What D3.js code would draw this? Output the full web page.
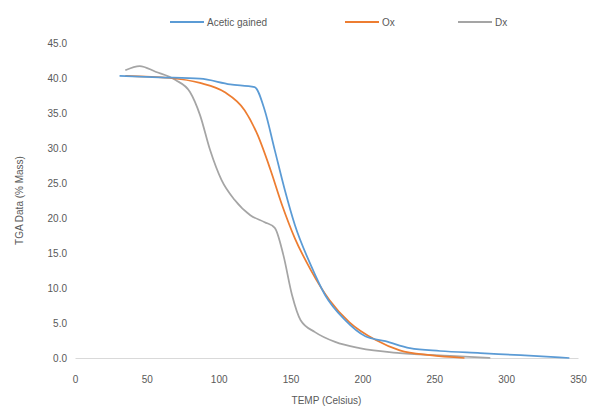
<!DOCTYPE html>
<html>
<head>
<meta charset="utf-8">
<script src="https://cdn.jsdelivr.net/npm/d3@7"></script>
<style>
  html, body { margin: 0; padding: 0; background: #fff; }
  svg { display: block; font-family: "Liberation Sans", Arial, sans-serif; }
</style>
</head>
<body>
<svg id="chart" width="592" height="410"></svg>
<script>
// Mass loss curves vs temperature
const seriesNames = ["Acetic gained", "Ox", "Dx"];
const seriesColors = ["#5B9BD5", "#ED7D31", "#A5A5A5"];

const tempA = [31, 59, 87, 108, 125, 132, 139, 146, 153, 164, 174, 188, 202, 216, 233, 254, 282, 310, 344];
const massA = [40.3, 40.1, 39.9, 39.1, 38.7, 35.4, 29.7, 24.0, 19.0, 13.3, 9.0, 5.4, 3.1, 2.4, 1.4, 1.0, 0.7, 0.4, 0.0];

const tempB = [35, 66, 87, 104, 118, 127, 136, 144, 153, 164, 177, 191, 209, 226, 247, 271];
const massB = [40.3, 40.0, 39.3, 38.0, 35.4, 31.9, 26.9, 21.9, 17.1, 12.6, 8.3, 5.1, 2.6, 1.1, 0.4, 0.0];

const tempC = [35, 45, 56, 70, 80, 87, 94, 102, 111, 122, 132, 139, 145, 151, 157, 167, 181, 198, 226, 261, 289];
const massC = [41.1, 41.7, 40.9, 39.7, 38.0, 34.7, 29.7, 25.4, 22.6, 20.4, 19.4, 18.6, 14.7, 9.0, 5.4, 3.7, 2.3, 1.4, 0.7, 0.3, 0.0];

const xTicks = [0, 50, 100, 150, 200, 250, 300, 350];
const yTicks = [0, 5, 10, 15, 20, 25, 30, 35, 40, 45];
const xTitle = "TEMP (Celsius)";
const yTitle = "TGA Data (% Mass)";

const svg = d3.select("#chart");
const margin = { left: 75, right: 14, top: 43, bottom: 52 };
const W = 592, H = 410;

const x = d3.scaleLinear().domain([0, 350]).range([margin.left, W - margin.right]);
const y = d3.scaleLinear().domain([0, 45]).range([H - margin.bottom, margin.top]);

const textColor = "#595959";
const fontSize = 10;

// x axis
const xAxis = svg.append("g")
  .attr("transform", `translate(0,${y(0)})`)
  .call(d3.axisBottom(x).tickValues(xTicks).tickSize(0).tickPadding(18).tickFormat(d3.format("d")));
xAxis.select(".domain").attr("stroke", "#D9D9D9");
xAxis.selectAll("text").attr("fill", textColor).attr("font-size", fontSize);

// y axis (labels only)
const yAxis = svg.append("g")
  .attr("transform", `translate(${margin.left},0)`)
  .call(d3.axisLeft(y).tickValues(yTicks).tickSize(0).tickPadding(8).tickFormat(d3.format(".1f")));
yAxis.select(".domain").remove();
yAxis.selectAll("text").attr("fill", textColor).attr("font-size", fontSize);

// axis titles
svg.append("text")
  .attr("x", (x(0) + x(350)) / 2)
  .attr("y", 404)
  .attr("text-anchor", "middle")
  .attr("fill", textColor)
  .attr("font-size", fontSize)
  .text(xTitle);

svg.append("text")
  .attr("transform", `translate(23,${(y(0) + y(45)) / 2}) rotate(-90)`)
  .attr("text-anchor", "middle")
  .attr("fill", textColor)
  .attr("font-size", fontSize)
  .text(yTitle);

// curves
const series = [
  { temp: tempA, mass: massA },
  { temp: tempB, mass: massB },
  { temp: tempC, mass: massC }
];

const line = d3.line()
  .x(d => x(d[0]))
  .y(d => y(d[1]))
  .curve(d3.curveMonotoneX);

// gray first, then orange, then blue on top
[2, 1, 0].forEach(i => {
  const pts = series[i].temp.map((t, k) => [t, series[i].mass[k]]);
  svg.append("path")
    .datum(pts)
    .attr("fill", "none")
    .attr("stroke", seriesColors[i])
    .attr("stroke-width", 1.75)
    .attr("stroke-linejoin", "round")
    .attr("d", line);
});

// legend
const legendItems = [
  { x: 170, w: 34 },
  { x: 345, w: 34 },
  { x: 458, w: 34 }
];
legendItems.forEach((it, i) => {
  const g = svg.append("g").attr("transform", `translate(${it.x},22)`);
  g.append("line")
    .attr("x1", 0).attr("x2", it.w)
    .attr("y1", 0).attr("y2", 0)
    .attr("stroke", seriesColors[i])
    .attr("stroke-width", 2);
  g.append("text")
    .attr("x", it.w + 3)
    .attr("y", 3.5)
    .attr("fill", textColor)
    .attr("font-size", fontSize)
    .text(seriesNames[i]);
});
</script>
</body>
</html>
